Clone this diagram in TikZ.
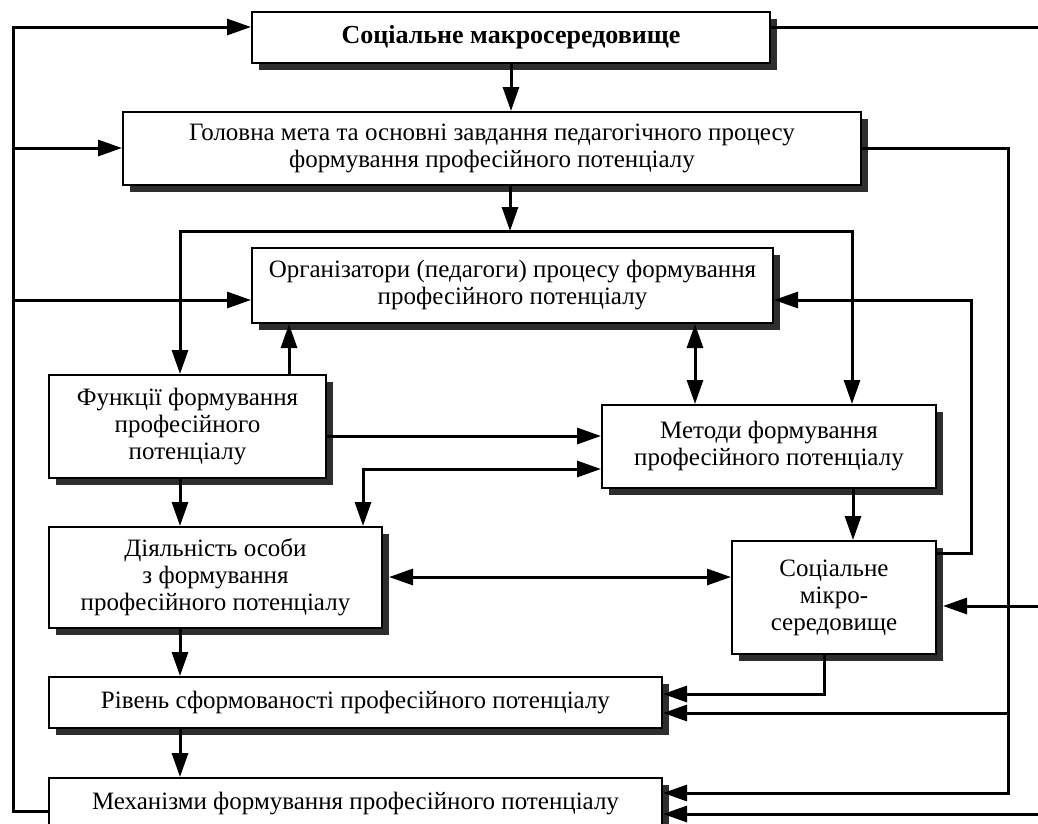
\documentclass[tikz,border=0pt]{standalone}
\usepackage{fontspec}
\setmainfont{Liberation Serif}
\usetikzlibrary{arrows.meta,shadows,calc}
\begin{document}
\begin{tikzpicture}[x=1pt,y=-1pt,
  box/.style={draw=black, line width=2pt, fill=white, anchor=north west, align=center,
    inner sep=0pt, font=\fontsize{25}{27}\selectfont,
    drop shadow={shadow xshift=7pt, shadow yshift=-7pt, fill=black!82, opacity=1}},
  conn/.style={line width=3pt},
  arr/.style={conn, -{Triangle[length=24pt,width=16pt]}},
  dbl/.style={conn, {Triangle[length=24pt,width=16pt]}-{Triangle[length=24pt,width=16pt]}}]
\fill[white] (0,0) rectangle (1038,823);
\useasboundingbox (0,0) rectangle (1038,823);

\node[box, minimum width=518pt, minimum height=51pt, font=\fontsize{26}{27}\selectfont\bfseries] (macro) at (251,11) {Соціальне макросередовище};
\node[box, minimum width=738pt, minimum height=73pt] (goal) at (122,111) {Головна мета та основні завдання педагогічного процесу\\формування професійного потенціалу};
\node[box, minimum width=521pt, minimum height=75pt] (org) at (251,247) {Організатори (педагоги) процесу формування\\професійного потенціалу};
\node[box, minimum width=277pt, minimum height=103pt] (func) at (48,374) {Функції формування\\професійного\\потенціалу};
\node[box, minimum width=334pt, minimum height=83pt] (meth) at (601,404) {Методи формування\\професійного потенціалу};
\node[box, minimum width=333pt, minimum height=101pt] (act) at (48,526) {Діяльність особи\\з формування\\професійного потенціалу};
\node[box, minimum width=204pt, minimum height=113pt] (micro) at (731,540) {Соціальне\\мікро-\\середовище};
\node[box, minimum width=613pt, minimum height=51pt] (level) at (48,676) {Рівень сформованості професійного потенціалу};
\node[box, minimum width=613pt, minimum height=51pt] (mech) at (48,777) {Механізми формування професійного потенціалу};

% coordinates
\coordinate (j) at (510,231);
\coordinate (jl) at (180,231);
\coordinate (jr) at (852,231);
\coordinate (lb) at (13,811);
\coordinate (lt) at (13,27);
\coordinate (lg) at (13,148);
\coordinate (lo) at (13,300);
\coordinate (rt) at (1042,27);
\coordinate (rm) at (1042,606);
\coordinate (rb) at (1042,814);
\coordinate (g1) at (1008,148);
\coordinate (g3) at (1008,713);
\coordinate (g2) at (1008,793);
\coordinate (fo) at (289,0);
\coordinate (om) at (695,0);
\coordinate (fm) at (0,436);
\coordinate (am) at (363,469);
\coordinate (mm) at (853,0);
\coordinate (mo1) at (971,553);
\coordinate (mo2) at (971,300);
\coordinate (ami) at (0,577);
\coordinate (ml) at (824,694);

% top chain
\draw[arr] (macro.south) -- (macro.south |- goal.north);
\draw[arr] (j |- goal.south) -- (j);
\draw[arr] (j) -- (jl) -- (jl |- func.north);
\draw[arr] (j) -- (jr) -- (jr |- meth.north);

% left feedback
\draw[arr] (mech.west |- lb) -- (lb) -- (lt) -- (lt -| macro.west);
\draw[arr] (lg) -- (lg -| goal.west);
\draw[arr] (lo) -- (lo -| org.west);

% right outer line
\draw[arr] (rt -| macro.east) -- (rt) -- (rb) -- (rb -| mech.east);
\draw[arr] (rm) -- ([xshift=6pt]rm -| micro.east);

% goal right line
\draw[arr] (g1 -| goal.east) -- (g1) -- (g2) -- (g2 -| mech.east);
\draw[arr] (g3) -- (g3 -| level.east);

% middle
\draw[arr] (fo |- func.north) -- (fo |- org.south);
\draw[dbl] (om |- org.south) -- (om |- meth.north);
\draw[arr] (fm -| func.east) -- (fm -| meth.west);
\draw[dbl] (am |- act.north) -- (am) -- (am -| meth.west);
\draw[arr] (mm |- meth.south) -- (mm |- micro.north);
\draw[arr] (mo1 -| micro.east) -- (mo1) -- (mo2) -- (mo2 -| org.east);
\draw[dbl] ([xshift=6pt]ami -| act.east) -- (ami -| micro.west);

% lower chain
\draw[arr] (jl |- func.south) -- (jl |- act.north);
\draw[arr] (jl |- act.south) -- (jl |- level.north);
\draw[arr] (jl |- level.south) -- (jl |- mech.north);
\draw[arr] (ml |- micro.south) -- (ml) -- (ml -| level.east);
\end{tikzpicture}
\end{document}
